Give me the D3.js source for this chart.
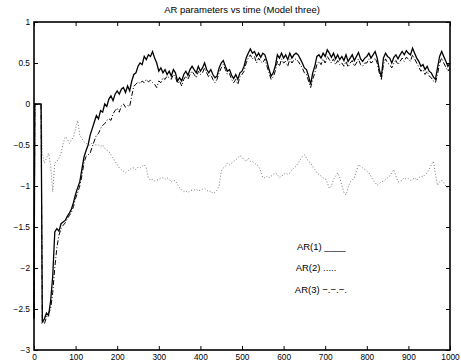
<!DOCTYPE html>
<html>
<head>
<meta charset="utf-8">
<script src="https://cdn.jsdelivr.net/npm/d3@7"></script>
<style>
  body { margin: 0; background: #fff; }
  text { font-family: "Liberation Sans", Arial, Helvetica, sans-serif; }
</style>
</head>
<body>
<div id="chart"></div>
<script>
// sample times: a short start-up phase, then one estimate every 5 steps
const time = [0, 2, 17].concat(d3.range(20, 1001, 5));

// AR(1) estimate, solid
const ar1 = [-2.62, 0, 0,
  -2.66, -2.62, -2.55, -2.58, -2.4, -2.1, -1.56, -1.52, -1.55, -1.46,
  -1.44, -1.42, -1.37, -1.33, -1.28, -1.2, -1.1, -1.02, -0.95, -0.8,
  -0.65, -0.57, -0.5, -0.38, -0.3, -0.22, -0.14, -0.18, -0.08, -0.1,
  0.0, -0.03, 0.06, 0.1, 0.04, 0.12, 0.16, 0.12, 0.18, 0.2,
  0.14, 0.22, 0.16, 0.28, 0.36, 0.38, 0.46, 0.5, 0.48, 0.58,
  0.54, 0.6, 0.58, 0.64, 0.56, 0.5, 0.4, 0.44, 0.38, 0.42,
  0.36, 0.4, 0.34, 0.42, 0.38, 0.28, 0.32, 0.28, 0.36, 0.4,
  0.35, 0.42, 0.46, 0.42, 0.38, 0.46, 0.4, 0.44, 0.5, 0.42,
  0.38, 0.42, 0.36, 0.32, 0.34, 0.44, 0.5, 0.53, 0.46, 0.4,
  0.42, 0.35, 0.31, 0.36, 0.3, 0.38, 0.4, 0.46, 0.56, 0.62,
  0.67, 0.62, 0.64, 0.58, 0.62, 0.57, 0.62, 0.6, 0.52, 0.42,
  0.34, 0.38, 0.46, 0.6, 0.56, 0.62, 0.56, 0.6, 0.54, 0.62,
  0.56, 0.6, 0.62, 0.6, 0.55, 0.5, 0.44, 0.42, 0.34, 0.24,
  0.38, 0.46, 0.58, 0.6, 0.56, 0.62, 0.58, 0.66, 0.62, 0.57,
  0.62, 0.55, 0.6, 0.54, 0.58, 0.53, 0.6, 0.52, 0.56, 0.6,
  0.53, 0.58, 0.63, 0.55, 0.52, 0.56, 0.58, 0.62, 0.56, 0.6,
  0.64, 0.56, 0.42, 0.33, 0.56, 0.62, 0.58, 0.56, 0.5, 0.57,
  0.6, 0.55, 0.6, 0.64, 0.6, 0.65, 0.62, 0.6, 0.68, 0.62,
  0.56, 0.52, 0.46, 0.48, 0.42, 0.46, 0.4, 0.38, 0.33, 0.3,
  0.44, 0.58, 0.64, 0.58, 0.52, 0.46, 0.5];

// AR(2) estimate, dotted
const ar2 = [-2.6, 0, 0,
  -0.6, -0.72, -0.66, -0.6, -0.75, -1.07, -0.72, -0.7, -0.66, -0.6,
  -0.48, -0.4, -0.42, -0.48, -0.44, -0.4, -0.3, -0.2, -0.38, -0.42,
  -0.46, -0.48, -0.5, -0.5, -0.47, -0.5, -0.5, -0.5, -0.52, -0.5,
  -0.54, -0.56, -0.58, -0.62, -0.66, -0.7, -0.74, -0.78, -0.8, -0.82,
  -0.84, -0.82, -0.8, -0.78, -0.78, -0.8, -0.77, -0.78, -0.76, -0.74,
  -0.78, -0.9, -0.93, -0.92, -0.94, -0.93, -0.92, -0.9, -0.9, -0.92,
  -0.9, -0.92, -0.95, -0.93, -0.94, -0.98, -1.02, -1.05, -1.07, -1.06,
  -1.08, -1.06, -1.05, -1.05, -1.04, -1.06, -1.05, -1.04, -1.03, -1.05,
  -1.07, -1.06, -1.09, -1.08, -1.05, -1.0, -0.82, -0.78, -0.76, -0.72,
  -0.74, -0.72, -0.7, -0.68, -0.66, -0.63, -0.65, -0.68, -0.7, -0.66,
  -0.7, -0.7, -0.72, -0.74, -0.76, -0.82, -0.9, -0.9, -0.88, -0.9,
  -0.88, -0.86, -0.84, -0.86, -0.9, -0.88, -0.86, -0.84, -0.86, -0.84,
  -0.8, -0.78, -0.76, -0.72, -0.68, -0.64, -0.62, -0.66, -0.7, -0.72,
  -0.76, -0.8, -0.84, -0.86, -0.88, -0.9, -0.91, -0.96, -1.03, -1.0,
  -0.92, -0.88, -0.84, -0.9, -0.99, -1.08, -1.11, -1.02, -0.95, -0.93,
  -0.9, -0.82, -0.74, -0.76, -0.78, -0.8, -0.82, -0.84, -0.88, -0.93,
  -0.96, -0.99, -0.97, -0.95, -0.94, -0.92, -0.9, -0.88, -0.84, -0.8,
  -0.88, -0.95, -0.94, -0.93, -0.9, -0.92, -0.91, -0.93, -0.92, -0.9,
  -0.93, -0.9, -0.88, -0.89, -0.86, -0.84, -0.8, -0.74, -0.7, -0.85,
  -0.99, -0.95, -0.93, -0.96, -1.0, -1.03, -1.05];

// AR(3) estimate, dash-dot
const ar3 = [-2.6, 0, 0,
  -2.64, -2.68, -2.6, -2.55, -2.5, -2.3, -2.0, -1.75, -1.6, -1.52,
  -1.48, -1.45, -1.4, -1.36, -1.32, -1.25, -1.15, -1.08, -1.0, -0.88,
  -0.72, -0.64, -0.62, -0.6, -0.52, -0.45, -0.38, -0.36, -0.3, -0.26,
  -0.24, -0.2, -0.18, -0.2, -0.12, -0.08, -0.05, -0.1, -0.02, 0.0,
  -0.04, -0.02, -0.03, 0.1, 0.22, 0.24, 0.27, 0.25, 0.28, 0.26,
  0.3, 0.27, 0.29, 0.26, 0.24, 0.2, 0.28, 0.26, 0.32, 0.3,
  0.34, 0.32, 0.3, 0.36, 0.33, 0.25, 0.28, 0.22, 0.3, 0.34,
  0.3, 0.36, 0.4, 0.36, 0.32, 0.4, 0.36, 0.38, 0.44, 0.38,
  0.33, 0.36, 0.3, 0.26, 0.3, 0.38, 0.44, 0.48, 0.42, 0.36,
  0.37, 0.3, 0.26, 0.3, 0.24, 0.33, 0.36, 0.4, 0.5, 0.56,
  0.6, 0.55, 0.58, 0.5, 0.56, 0.52, 0.5, 0.55, 0.46, 0.38,
  0.3, 0.33, 0.4, 0.52, 0.46, 0.55, 0.5, 0.52, 0.46, 0.55,
  0.5, 0.54, 0.55, 0.52, 0.48, 0.44, 0.38, 0.36, 0.28, 0.2,
  0.3, 0.38, 0.48, 0.52, 0.48, 0.55, 0.5, 0.58, 0.54, 0.5,
  0.55, 0.48, 0.53, 0.48, 0.5, 0.46, 0.52, 0.45, 0.5, 0.53,
  0.46, 0.5, 0.55, 0.48, 0.46, 0.5, 0.5, 0.55, 0.5, 0.52,
  0.56, 0.5, 0.38, 0.3, 0.48, 0.55, 0.5, 0.48, 0.44, 0.5,
  0.53, 0.48, 0.52, 0.56, 0.52, 0.57, 0.55, 0.52, 0.6, 0.55,
  0.5, 0.45, 0.4, 0.42, 0.36, 0.4, 0.34, 0.32, 0.28, 0.26,
  0.36, 0.5, 0.56, 0.5, 0.45, 0.4, 0.44];

const xTicks = d3.range(0, 1001, 100);
const yTicks = [-3, -2.5, -2, -1.5, -1, -0.5, 0, 0.5, 1];
const legendLabels = ["AR(1) ____", "AR(2) .....", "AR(3) \u2212.\u2212.\u2212."];

const width = 461, height = 364;
const plotLeft = 34, plotRight = 450, plotTop = 22, plotBottom = 350;

const svg = d3.select("#chart").append("svg")
  .attr("width", width)
  .attr("height", height);

const x = d3.scaleLinear().domain([0, 1000]).range([plotLeft, plotRight]);
const y = d3.scaleLinear().domain([-3, 1]).range([plotBottom, plotTop]);

function series(values) {
  return values.map((v, i) => ({ t: time[i], v: v }));
}

const line = d3.line()
  .x(d => x(d.t))
  .y(d => y(d.v));

// dotted first, then dash-dot, solid on top
svg.append("path")
  .datum(series(ar2))
  .attr("d", line)
  .attr("fill", "none")
  .attr("stroke", "#777")
  .attr("stroke-width", 1)
  .attr("stroke-dasharray", "1,2");

svg.append("path")
  .datum(series(ar3))
  .attr("d", line)
  .attr("fill", "none")
  .attr("stroke", "#000")
  .attr("stroke-width", 1)
  .attr("stroke-dasharray", "5,2,1,2");

svg.append("path")
  .datum(series(ar1))
  .attr("d", line)
  .attr("fill", "none")
  .attr("stroke", "#000")
  .attr("stroke-width", 1.3);

// axes, ticks pointing inwards like matlab
const fontSize = "8.3px";

const gx = svg.append("g")
  .attr("transform", "translate(0," + plotBottom + ")")
  .call(d3.axisBottom(x).tickValues(xTicks).tickFormat(d3.format("d"))
    .tickSizeInner(-4).tickSizeOuter(0).tickPadding(4));
const gxTop = svg.append("g")
  .attr("transform", "translate(0," + plotTop + ")")
  .call(d3.axisTop(x).tickValues(xTicks).tickSizeInner(-4).tickSizeOuter(0).tickFormat(""));
const gy = svg.append("g")
  .attr("transform", "translate(" + plotLeft + ",0)")
  .call(d3.axisLeft(y).tickValues(yTicks).tickFormat(d3.format(""))
    .tickSizeInner(-4).tickSizeOuter(0).tickPadding(4));
const gyRight = svg.append("g")
  .attr("transform", "translate(" + plotRight + ",0)")
  .call(d3.axisRight(y).tickValues(yTicks).tickSizeInner(-4).tickSizeOuter(0).tickFormat(""));

[gx, gxTop, gy, gyRight].forEach(g => {
  g.select(".domain").remove();
  g.selectAll("line").attr("stroke", "#000").attr("stroke-width", 1);
  g.selectAll("text")
    .attr("fill", "#000")
    .style("font-size", fontSize)
    .style("font-family", "'Liberation Sans', Arial, sans-serif");
});

svg.append("rect")
  .attr("x", plotLeft)
  .attr("y", plotTop)
  .attr("width", plotRight - plotLeft)
  .attr("height", plotBottom - plotTop)
  .attr("fill", "none")
  .attr("stroke", "#000")
  .attr("stroke-width", 1.6);

svg.append("text")
  .attr("x", (plotLeft + plotRight) / 2)
  .attr("y", 13)
  .attr("text-anchor", "middle")
  .style("font-size", "9.5px")
  .text("AR parameters vs time (Model three)");

// text labels placed in data coordinates
const legendPos = [[632, -1.78], [629, -2.04], [627, -2.3]];
svg.selectAll(".legend")
  .data(legendLabels)
  .enter()
  .append("text")
  .attr("class", "legend")
  .attr("x", (d, i) => x(legendPos[i][0]))
  .attr("y", (d, i) => y(legendPos[i][1]))
  .style("font-size", "9.5px")
  .text(d => d);
</script>
</body>
</html>
